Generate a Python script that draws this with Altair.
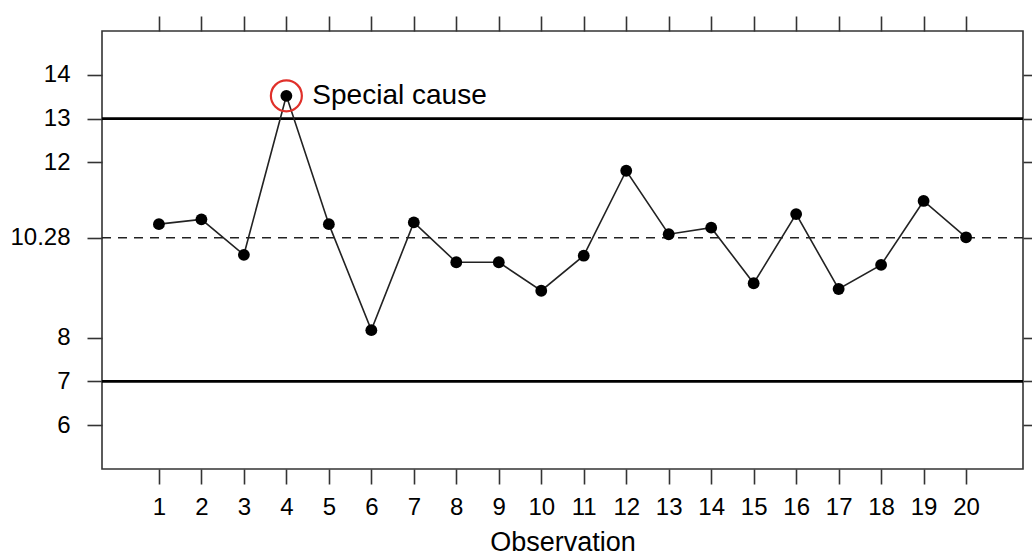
import altair as alt
import pandas as pd

# ---- data ----
observation = list(range(1, 21))
values = [10.59, 10.70, 9.89, 13.52, 10.59, 8.17, 10.63, 9.72, 9.72, 9.07,
          9.87, 11.81, 10.36, 10.51, 9.24, 10.82, 9.11, 9.66, 11.12, 10.29]
center_line = [10.28]
control_limits = [7, 13]
y_ticks = [6, 7, 8, 10.28, 12, 13, 14]
x_ticks = observation
special_obs = [4]
special_label = "Special cause"

df = pd.DataFrame({"obs": observation, "value": values})
limits_df = pd.DataFrame({"y": control_limits})
center_df = pd.DataFrame({"y": center_line})
special_df = df[df["obs"].isin(special_obs)].assign(label=special_label)

FONT = "Liberation Sans"
xscale = alt.Scale(domain=[-0.34, 21.34], nice=False, zero=False)
yscale = alt.Scale(domain=[5, 15], nice=False, zero=False)

x_bottom = alt.X("obs:Q", scale=xscale,
                 axis=alt.Axis(values=x_ticks, orient="bottom", title="Observation",
                               labelPadding=11, titlePadding=10, format="d"))
y_left = alt.Y("value:Q", scale=yscale,
               axis=alt.Axis(values=y_ticks, orient="left", title=None,
                             labelPadding=17, format=".4~g"))

line = alt.Chart(df).mark_line(color="#222222", strokeWidth=1.6).encode(x=x_bottom, y=y_left)
pts = alt.Chart(df).mark_circle(color="#000000", size=140, opacity=1).encode(
    x=alt.X("obs:Q", scale=xscale, axis=None),
    y=alt.Y("value:Q", scale=yscale, axis=None))

# mirrored ticks on top and right
mirror = alt.Chart(df).mark_point(opacity=0).encode(
    x=alt.X("obs:Q", scale=xscale,
            axis=alt.Axis(values=x_ticks, orient="top", labels=False, title=None)),
    y=alt.Y("value:Q", scale=yscale,
            axis=alt.Axis(values=y_ticks, orient="right", labels=False, title=None)))

limits = alt.Chart(limits_df).mark_rule(color="#000000", strokeWidth=2.8).encode(
    y=alt.Y("y:Q", scale=yscale, axis=None))
center = alt.Chart(center_df).mark_rule(color="#222222", strokeWidth=1.6,
                                        strokeDash=[9, 7]).encode(
    y=alt.Y("y:Q", scale=yscale, axis=None))

ring = alt.Chart(special_df).mark_point(shape="circle", filled=False, size=960,
                                        stroke="#e0302a", strokeWidth=2.2, opacity=1).encode(
    x=alt.X("obs:Q", scale=xscale, axis=None),
    y=alt.Y("value:Q", scale=yscale, axis=None))
label = alt.Chart(special_df).mark_text(align="left", baseline="middle", dx=26,
                                        font=FONT, fontSize=28, color="#000000").encode(
    x=alt.X("obs:Q", scale=xscale, axis=None),
    y=alt.Y("value:Q", scale=yscale, axis=None),
    text="label:N")

chart = alt.layer(limits, center, line, pts, ring, label, mirror).resolve_axis(
    x="independent", y="independent"
).properties(
    width=921, height=438,
    background="white",
    autosize=alt.AutoSizeParams(type="none"),
    padding={"left": 102, "top": 31, "right": 9, "bottom": 87},
).configure_view(
    stroke="#333333", strokeWidth=1.6
).configure_axis(
    domain=False, grid=False, ticks=True, tickColor="#333333", tickWidth=1.6,
    tickSize=15, labelFont=FONT, labelFontSize=24, labelColor="#000000",
    titleFont=FONT, titleFontSize=27, titleColor="#000000", titleFontWeight="normal",
    labelFlush=False, labelOverlap=False
)

chart.save("out.html", embed_options={"renderer": "svg", "actions": False})
